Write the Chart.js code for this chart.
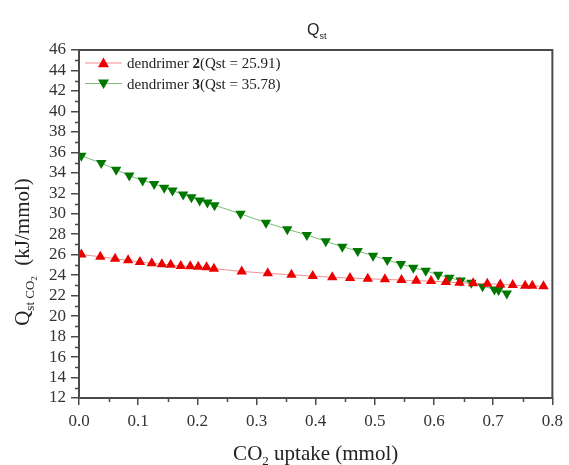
<!DOCTYPE html>
<html>
<head>
<meta charset="utf-8">
<script src="https://cdn.jsdelivr.net/npm/chart.js@4/dist/chart.umd.min.js"></script>
<style>
  html, body { margin: 0; padding: 0; background: #ffffff; }
  #wrap { width: 569px; height: 465px; }
</style>
</head>
<body>
<div id="wrap"><canvas id="c" width="569" height="465"></canvas></div>
<script>
// ---- data ----
const d2X = [0.004, 0.036, 0.061, 0.083, 0.103, 0.123, 0.140, 0.155, 0.172, 0.188, 0.2015, 0.2156, 0.228,
             0.275, 0.319, 0.359, 0.395, 0.428, 0.458, 0.488, 0.517, 0.545, 0.570, 0.595, 0.620, 0.643,
             0.666, 0.690, 0.712, 0.733, 0.754, 0.766, 0.785];
const d2Y = [26.02, 25.80, 25.61, 25.45, 25.29, 25.16, 25.06, 25.02, 24.89, 24.86, 24.82, 24.77, 24.63,
             24.37, 24.18, 24.04, 23.91, 23.79, 23.72, 23.65, 23.59, 23.52, 23.45, 23.42, 23.33, 23.26,
             23.20, 23.16, 23.10, 23.03, 22.96, 22.96, 22.93];
const d3X = [0.004, 0.0376, 0.0628, 0.085, 0.1075, 0.127, 0.144, 0.158, 0.176, 0.190, 0.204, 0.217, 0.229,
             0.273, 0.316, 0.352, 0.385, 0.417, 0.445, 0.471, 0.497, 0.521, 0.544, 0.565, 0.586, 0.607,
             0.626, 0.645, 0.663, 0.682, 0.702, 0.709, 0.723];
const d3Y = [35.67, 34.95, 34.30, 33.74, 33.25, 32.92, 32.53, 32.27, 31.88, 31.62, 31.29, 31.09, 30.84,
             29.99, 29.13, 28.49, 27.93, 27.31, 26.78, 26.36, 25.90, 25.48, 25.09, 24.73, 24.43, 24.04,
             23.75, 23.49, 23.26, 22.93, 22.61, 22.54, 22.22];
const seriesNames = ["dendrimer 2", "dendrimer 3"];
const legendParts = [
  ["dendrimer ", "2", "(Qst = 25.91)"],
  ["dendrimer ", "3", "(Qst = 35.78)"]
];
const xTicks = [0, 0.1, 0.2, 0.3, 0.4, 0.5, 0.6, 0.7, 0.8];
const yMin = 12, yMax = 46, yStep = 2;

const RED = "rgb(235,0,0)", RED_LINE = "rgba(240,130,130,0.9)";
const GREEN = "rgb(0,120,0)", GREEN_LINE = "rgba(110,180,110,0.9)";
const SERIF = "'Liberation Serif', 'Times New Roman', serif";
const SANS = "'Liberation Sans', Arial, sans-serif";

function pts(xs, ys) { return xs.map((x, i) => ({ x: x, y: ys[i] })); }

// draw a run of text pieces with individual fonts / vertical offsets
function richText(ctx, parts, x, y, align) {
  let total = 0;
  parts.forEach(p => { ctx.font = p.font; total += ctx.measureText(p.t).width; });
  let cx = align === "center" ? x - total / 2 : (align === "right" ? x - total : x);
  ctx.textAlign = "left";
  parts.forEach(p => {
    ctx.font = p.font;
    ctx.fillText(p.t, cx, y + (p.dy || 0));
    cx += ctx.measureText(p.t).width;
  });
}

const decor = {
  id: "decor",
  afterDraw(chart) {
    const ctx = chart.ctx, a = chart.chartArea;
    const xs = chart.scales.x, ys = chart.scales.y;
    ctx.save();
    // frame
    ctx.strokeStyle = "#4a4a4a";
    ctx.lineWidth = 2;
    ctx.strokeRect(a.left, a.top, a.right - a.left, a.bottom - a.top);
    // minor ticks
    ctx.lineWidth = 1.5;
    ctx.beginPath();
    for (let v = yMin + 1; v < yMax; v += 2) {
      const py = Math.round(ys.getPixelForValue(v)) + 0.5;
      ctx.moveTo(a.left - 4, py); ctx.lineTo(a.left, py);
    }
    for (let i = 0; i < xTicks.length - 1; i++) {
      const v = (xTicks[i] + xTicks[i + 1]) / 2;
      const px = Math.round(xs.getPixelForValue(v)) + 0.5;
      ctx.moveTo(px, a.bottom); ctx.lineTo(px, a.bottom + 4);
    }
    ctx.stroke();

    ctx.fillStyle = "#222";
    ctx.textBaseline = "alphabetic";
    // title
    const cxp = (a.left + a.right) / 2;
    richText(ctx, [
      { t: "Q", font: "16px " + SANS },
      { t: "st", font: "9px " + SANS, dy: 4 }
    ], cxp + 1, 35, "center");
    // x axis title
    richText(ctx, [
      { t: "CO", font: "21px " + SERIF },
      { t: "2", font: "13px " + SERIF, dy: 5 },
      { t: " uptake (mmol)", font: "21px " + SERIF }
    ], cxp, 460, "center");
    // y axis title
    ctx.save();
    ctx.translate(29, 252);
    ctx.rotate(-Math.PI / 2);
    richText(ctx, [
      { t: "Q", font: "21px " + SERIF },
      { t: "st CO", font: "13px " + SERIF, dy: 5 },
      { t: "2", font: "9px " + SERIF, dy: 8 },
      { t: "  (kJ/mmol)", font: "21px " + SERIF }
    ], 0, 0, "center");
    ctx.restore();

    // legend
    const rows = [
      { y: 63, line: RED_LINE, fill: RED, up: true },
      { y: 83.5, line: GREEN_LINE, fill: GREEN, up: false }
    ];
    rows.forEach((r, i) => {
      ctx.strokeStyle = r.line;
      ctx.lineWidth = 1;
      ctx.beginPath();
      ctx.moveTo(85, r.y); ctx.lineTo(122, r.y);
      ctx.stroke();
      ctx.fillStyle = r.fill;
      ctx.beginPath();
      const mx = 103.5, s = 5.5;
      if (r.up) {
        ctx.moveTo(mx, r.y - s); ctx.lineTo(mx + s, r.y + s * 0.75); ctx.lineTo(mx - s, r.y + s * 0.75);
      } else {
        ctx.moveTo(mx, r.y + s); ctx.lineTo(mx + s, r.y - s * 0.75); ctx.lineTo(mx - s, r.y - s * 0.75);
      }
      ctx.closePath();
      ctx.fill();
      ctx.fillStyle = "#222";
      const p = legendParts[i];
      richText(ctx, [
        { t: p[0], font: "15px " + SERIF },
        { t: p[1], font: "bold 15px " + SERIF },
        { t: p[2], font: "15px " + SERIF }
      ], 127, r.y + 5, "left");
    });
    ctx.restore();
  }
};

new Chart(document.getElementById("c"), {
  type: "line",
  data: {
    datasets: [
      {
        label: seriesNames[0],
        data: pts(d2X, d2Y),
        borderColor: RED_LINE,
        backgroundColor: RED,
        pointBackgroundColor: RED,
        pointBorderColor: RED,
        borderWidth: 1,
        pointStyle: "triangle",
        pointRadius: 6,
        pointBorderWidth: 0,
        tension: 0
      },
      {
        label: seriesNames[1],
        data: pts(d3X, d3Y),
        borderColor: GREEN_LINE,
        backgroundColor: GREEN,
        pointBackgroundColor: GREEN,
        pointBorderColor: GREEN,
        borderWidth: 1,
        pointStyle: "triangle",
        pointRotation: 180,
        pointRadius: 6,
        pointBorderWidth: 0,
        tension: 0
      }
    ]
  },
  options: {
    responsive: false,
    animation: false,
    layout: { padding: { left: 0, top: 50, right: 13, bottom: 0 } },
    plugins: { legend: { display: false }, title: { display: false }, tooltip: { enabled: false } },
    scales: {
      x: {
        type: "linear",
        min: 0, max: 0.8,
        afterFit(s) { s.height = 67; },
        afterBuildTicks(s) { s.ticks = xTicks.map(v => ({ value: v })); },
        ticks: {
          autoSkip: false,
          callback: v => v.toFixed(1),
          font: { family: SERIF, size: 17 },
          color: "#333",
          padding: 6,
          maxRotation: 0
        },
        grid: { display: true, drawOnChartArea: false, drawTicks: true, tickLength: 7, color: "#4a4a4a", lineWidth: 1.5 },
        border: { display: false }
      },
      y: {
        type: "linear",
        min: yMin, max: yMax,
        afterFit(s) { s.width = 79; },
        ticks: {
          autoSkip: false,
          stepSize: yStep,
          font: { family: SERIF, size: 17 },
          color: "#333",
          padding: 5
        },
        grid: { display: true, drawOnChartArea: false, drawTicks: true, tickLength: 8, color: "#4a4a4a", lineWidth: 1.5 },
        border: { display: false }
      }
    }
  },
  plugins: [decor]
});
</script>
</body>
</html>
